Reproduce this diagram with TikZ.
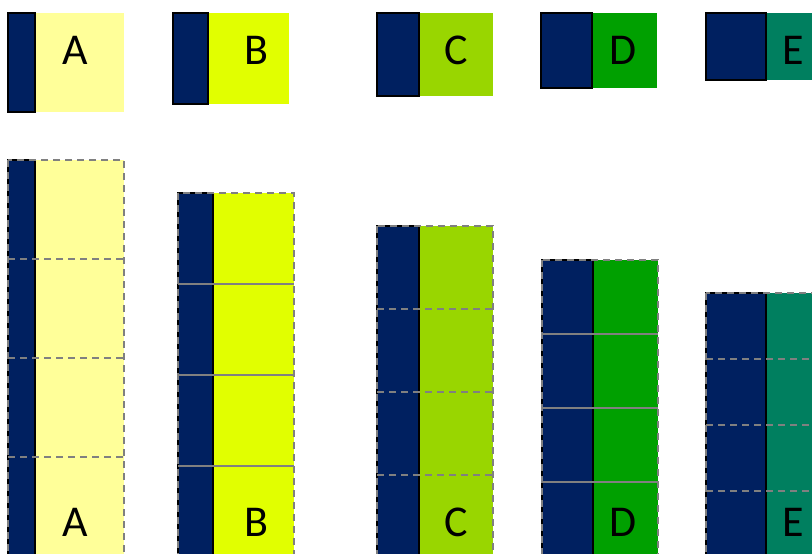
\documentclass[tikz,border=0pt]{standalone}
\usepackage{fontspec}
\setmainfont{Carlito}
\usetikzlibrary{positioning}
\definecolor{navy}{HTML}{002060}
\definecolor{colA}{HTML}{FFFF99}
\definecolor{colB}{HTML}{E1FF00}
\definecolor{colC}{HTML}{99D600}
\definecolor{colD}{HTML}{00A000}
\definecolor{colE}{HTML}{007F5F}
\definecolor{rule}{HTML}{808080}

\begin{document}
\begin{tikzpicture}[x=1pt, y=-1pt,
    keybox/.style={draw=black, line width=1.4pt, fill=navy, inner sep=0pt, outer sep=0pt},
    fillbox/.style={inner sep=0pt, outer sep=0pt, anchor=north west},
    letter/.style={font=\fontsize{44}{48}\selectfont, inner sep=0pt},
    outline/.style={draw=rule, line width=2pt, dash pattern=on 7pt off 5pt},
    dsplit/.style={draw=rule, line width=1.8pt, dash pattern=on 7pt off 5pt},
    ssplit/.style={draw=rule, line width=1.6pt}
]
\path[use as bounding box] (0,0) rectangle (812,554);
\clip (0,0) rectangle (812,554);

\foreach \n/\tx/\nw/\th/\bx/\by/\sg/\ln/\lx in {
    A/8/27/99/8/160/99/dsplit/75,
    B/173/35/91/178/193/91/ssplit/256,
    C/377/42/83/377/226/83/dsplit/456,
    D/541/51/75/542/260/74/ssplit/623,
    E/706/60/67/706/293/66/dsplit/793}{
  % single key on top
  \node[fillbox, fill=col\n, minimum width={(116-\nw)*1pt}, minimum height=\th pt]
    (box\n) at ({\tx+\nw},13) {};
  \node[keybox, minimum width=\nw pt, minimum height=\th pt, left=0pt of box\n] (key\n) {};
  \node[letter] (lab\n) at (\lx,50) {\n};
  % stack of four below
  \node[fillbox, fill=col\n, minimum width={(116-\nw)*1pt}, minimum height={4*\sg*1pt}]
    (sbox\n) at ({\bx+\nw},\by) {};
  \node[keybox, minimum width=\nw pt, minimum height={4*\sg*1pt}, left=0pt of sbox\n] (skey\n) {};
  \foreach \k in {1,2,3}
    \draw[\ln] (\bx,{\by+\k*\sg}) -- ++(116,0);
  \draw[outline] (skey\n.north west) rectangle (sbox\n.south east);
  \node[letter] (slab\n) at (\lx,522) {\n};
}
\end{tikzpicture}
\end{document}
